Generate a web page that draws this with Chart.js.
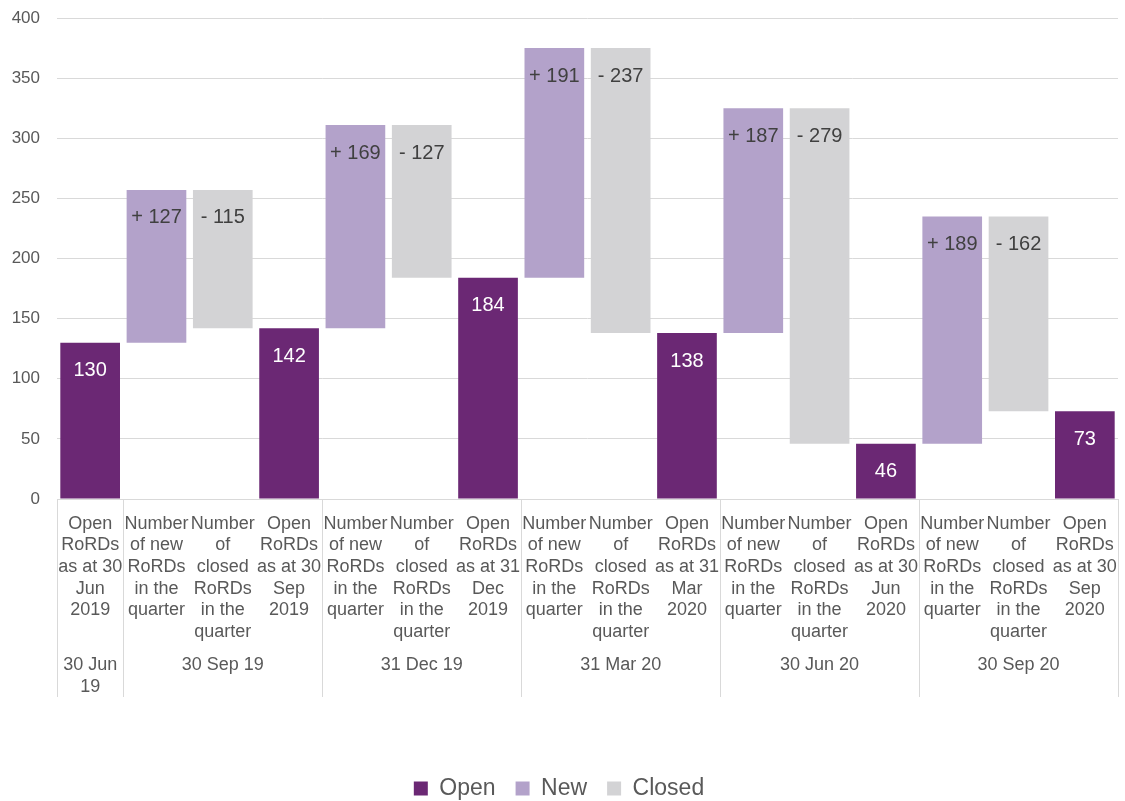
<!DOCTYPE html>
<html lang="en">
<head>
  <meta charset="UTF-8" />
  <title>Open RoRDs waterfall</title>
  <script src="https://cdn.jsdelivr.net/npm/chart.js"></script>
  <style>
    body {
      margin: 0;
      background: #fff;
      font-family: 'Liberation Sans', Arial, sans-serif;
    }
    .wrap {
      width: 1125px;
      height: 801px;
    }
  </style>
</head>
<body>
  <div class="wrap">
    <canvas id="chart" width="1125" height="801"></canvas>
  </div>

  <script>
    // quarter-end totals and quarterly movements
    const openValues = [130, 142, 184, 138, 46, 73];
    const newValues = [127, 169, 191, 187, 189];
    const closedValues = [115, 127, 237, 279, 162];

    const openLabels = [
      ['Open', 'RoRDs', 'as at 30', 'Jun', '2019'],
      ['Open', 'RoRDs', 'as at 30', 'Sep', '2019'],
      ['Open', 'RoRDs', 'as at 31', 'Dec', '2019'],
      ['Open', 'RoRDs', 'as at 31', 'Mar', '2020'],
      ['Open', 'RoRDs', 'as at 30', 'Jun', '2020'],
      ['Open', 'RoRDs', 'as at 30', 'Sep', '2020']
    ];
    const newLabel = ['Number', 'of new', 'RoRDs', 'in the', 'quarter'];
    const closedLabel = ['Number', 'of', 'closed', 'RoRDs', 'in the', 'quarter'];

    const groupLabels = ['30 Jun 19', '30 Sep 19', '31 Dec 19', '31 Mar 20', '30 Jun 20', '30 Sep 20'];

    // build the 16 categories and floating bars
    const categories = [openLabels[0]];
    const groupSpans = [[0, 0]];
    const openData = [[0, openValues[0]]];
    const newData = [null];
    const closedData = [null];
    const labelText = [String(openValues[0])];

    for (let q = 0; q < newValues.length; q++) {
      const start = openValues[q];
      const top = start + newValues[q];
      const end = top - closedValues[q];
      const i = categories.length;
      categories.push(newLabel, closedLabel, openLabels[q + 1]);
      groupSpans.push([i, i + 2]);
      openData.push(null, null, [0, end]);
      newData.push([start, top], null, null);
      closedData.push(null, [end, top], null);
      labelText.push('+ ' + newValues[q], '- ' + closedValues[q], String(end));
    }

    const textColor = '#595959';
    const gridColor = '#d9d9d9';
    const fontFamily = '"Liberation Sans", Arial, sans-serif';

    const extras = {
      id: 'extras',
      afterDatasetsDraw(chart) {
        const ctx = chart.ctx;
        ctx.save();
        ctx.textAlign = 'center';
        ctx.textBaseline = 'middle';
        ctx.font = '20px ' + fontFamily;
        chart.data.datasets.forEach((ds, di) => {
          const meta = chart.getDatasetMeta(di);
          meta.data.forEach((bar, i) => {
            if (!ds.data[i]) return;
            ctx.fillStyle = di === 0 ? '#ffffff' : '#404040';
            ctx.fillText(labelText[i], bar.x, bar.y + 28);
          });
        });
        ctx.restore();
      },
      afterDraw(chart) {
        const ctx = chart.ctx;
        const x = chart.scales.x;
        const area = chart.chartArea;
        const half = (x.getPixelForValue(1) - x.getPixelForValue(0)) / 2;
        const lineBottom = area.bottom + 198;
        ctx.save();
        ctx.strokeStyle = gridColor;
        ctx.lineWidth = 1;
        ctx.fillStyle = textColor;
        ctx.font = '18px ' + fontFamily;
        ctx.textAlign = 'center';
        ctx.textBaseline = 'middle';
        groupSpans.forEach((span, g) => {
          const left = x.getPixelForValue(span[0]) - half;
          const right = x.getPixelForValue(span[1]) + half;
          [left, right].forEach(px => {
            ctx.beginPath();
            ctx.moveTo(Math.round(px) + 0.5, area.bottom);
            ctx.lineTo(Math.round(px) + 0.5, lineBottom);
            ctx.stroke();
          });
          const cx = (left + right) / 2;
          const text = groupLabels[g];
          if (ctx.measureText(text).width > right - left - 6) {
            const cut = text.lastIndexOf(' ');
            ctx.fillText(text.slice(0, cut), cx, area.bottom + 166);
            ctx.fillText(text.slice(cut + 1), cx, area.bottom + 188);
          } else {
            ctx.fillText(text, cx, area.bottom + 166);
          }
        });
        ctx.restore();
      }
    };

    new Chart(document.getElementById('chart'), {
      type: 'bar',
      data: {
        labels: categories,
        datasets: [
          { label: 'Open', data: openData, backgroundColor: '#6b2874', grouped: false },
          { label: 'New', data: newData, backgroundColor: '#b3a2ca', grouped: false },
          { label: 'Closed', data: closedData, backgroundColor: '#d3d3d5', grouped: false }
        ]
      },
      options: {
        responsive: false,
        animation: false,
        layout: { padding: { top: 18, right: 7, left: 0, bottom: -9 } },
        datasets: {
          bar: { barPercentage: 0.9, categoryPercentage: 1 }
        },
        plugins: {
          tooltip: { enabled: false },
          legend: {
            position: 'bottom',
            labels: {
              color: textColor,
              font: { size: 23, family: fontFamily },
              boxWidth: 14,
              boxHeight: 14,
              padding: 20
            }
          }
        },
        scales: {
          x: {
            grid: { display: false },
            border: { color: gridColor },
            ticks: {
              autoSkip: false,
              maxRotation: 0,
              padding: 6,
              color: textColor,
              font: { size: 18, family: fontFamily, lineHeight: 1.2 }
            },
            afterFit(scale) {
              scale.height = 258;
              scale.paddingLeft = 0;
              scale.paddingRight = 0;
            }
          },
          y: {
            min: 0,
            max: 400,
            ticks: {
              stepSize: 50,
              padding: 17,
              color: textColor,
              font: { size: 17, family: fontFamily }
            },
            grid: { color: gridColor, drawTicks: false },
            border: { display: false },
            afterFit(scale) {
              scale.width = 57;
              scale.paddingTop = 0;
              scale.paddingBottom = 0;
            }
          }
        }
      },
      plugins: [extras]
    });
  </script>
</body>
</html>
